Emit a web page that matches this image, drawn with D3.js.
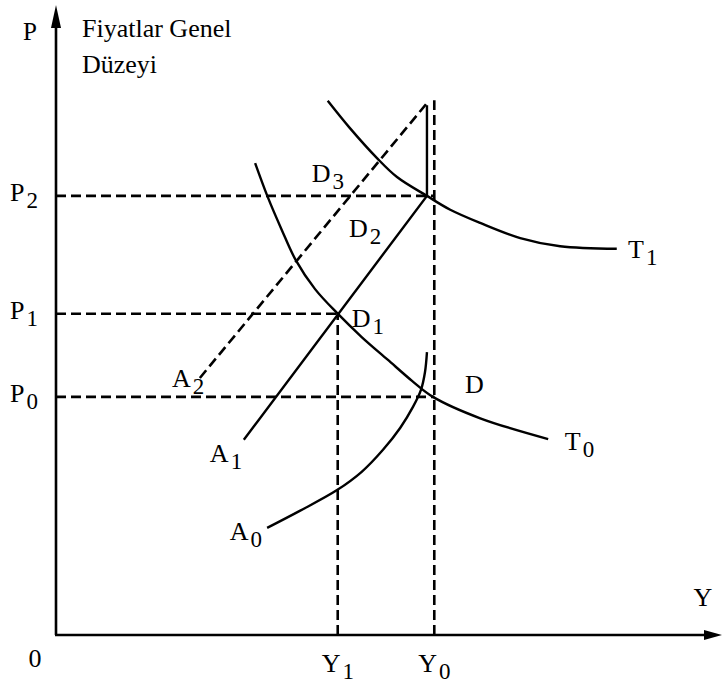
<!DOCTYPE html>
<html>
<head>
<meta charset="utf-8">
<script src="https://cdn.jsdelivr.net/npm/d3@7"></script>
<style>
  body { margin: 0; background: #fff; }
  svg { display: block; }
</style>
</head>
<body>
<div id="chart"></div>
<script>
// price levels (P axis) and output levels (Y axis), in chart units 0..100
const priceNames = ["P0", "P1", "P2"];
const priceValues = [37.8, 51.0, 69.7];
const outputNames = ["Y1", "Y0"];
const outputValues = [42.3, 56.8];

// curves
const t0Curve = [[29.9, 74.9], [31.8, 69.5], [33.9, 64.3], [36.0, 59.5], [38.9, 54.9], [42.3, 51.0],
    [45.9, 47.3], [49.8, 43.7], [53.5, 40.3], [56.6, 37.8], [63.7, 34.4], [73.9, 31.1]];
const t1Curve = [[40.8, 84.8], [44.1, 80.5], [48.2, 75.7], [51.2, 72.7], [55.7, 69.7], [59.2, 67.5],
    [63.7, 65.4], [69.7, 63.0], [75.7, 61.7], [84.2, 61.3]];
const a0Curve = [[31.7, 17.0], [36.6, 19.7], [42.2, 23.0], [45.9, 25.9], [49.1, 29.4], [51.7, 32.9],
    [53.6, 36.2], [54.8, 38.9], [55.4, 41.7], [55.7, 44.9]];
const a1Line = [[28.2, 31.0], [55.7, 69.7], [55.7, 84.1]];
const a2Line = [[21.6, 40.8], [55.6, 84.3]];

// dashed guides: [price, output end] and [output, price end]
const hGuides = [[69.7, 56.8], [51.0, 42.3], [37.8, 56.8]];
const vGuides = [[42.3, 51.0], [56.8, 84.9]];

// curve / point labels (letter, subscript, position in chart units)
const labelNames = ["T", "T", "A", "A", "A", "D", "D", "D", "D"];
const labelSubs = ["0", "1", "0", "1", "2", "", "1", "2", "3"];
const labelPos = [[76.4, 29.4], [85.9, 59.8], [26.1, 15.1], [23.1, 27.5], [17.4, 39.4],
    [61.4, 38.4], [44.4, 48.9], [44.0, 63.2], [38.4, 71.9]];

const width = 723, height = 683;
const FONT = "'Liberation Serif', 'DejaVu Serif', 'Times New Roman', serif";

const svg = d3.select("#chart").append("svg")
    .attr("width", width)
    .attr("height", height)
    .attr("font-family", FONT);

let x = d3.scaleLinear().domain([0, 100]).range([56, 722]);
let y = d3.scaleLinear().domain([0, 100]).range([635, 5]);

const line = d3.line().x(d => x(d[0])).y(d => y(d[1]));
const smooth = d3.line().x(d => x(d[0])).y(d => y(d[1])).curve(d3.curveCatmullRom.alpha(0.5));

// axes
svg.append("line")
    .attr("x1", x(0)).attr("y1", y(0))
    .attr("x2", x(0)).attr("y2", y(100) + 10)
    .attr("stroke", "#000").attr("stroke-width", 2.6);
svg.append("line")
    .attr("x1", x(0) - 1).attr("y1", y(0))
    .attr("x2", x(100) - 10).attr("y2", y(0))
    .attr("stroke", "#000").attr("stroke-width", 2.6);
// arrow heads
svg.append("path")
    .attr("d", `M${x(0)},${y(100)} L${x(0) - 5},${y(100) + 23} L${x(0) + 5},${y(100) + 23} Z`)
    .attr("fill", "#000");
svg.append("path")
    .attr("d", `M${x(100)},${y(0)} L${x(100) - 18},${y(0) - 5} L${x(100) - 18},${y(0) + 5} Z`)
    .attr("fill", "#000");

// dashed guides
const dash = "10,5";
svg.selectAll(".hguide").data(hGuides).enter()
    .append("line")
    .attr("class", "hguide")
    .attr("x1", x(0)).attr("y1", d => y(d[0]))
    .attr("x2", d => x(d[1])).attr("y2", d => y(d[0]))
    .attr("stroke", "#000").attr("stroke-width", 2.6)
    .attr("stroke-dasharray", dash);
svg.selectAll(".vguide").data(vGuides).enter()
    .append("line")
    .attr("class", "vguide")
    .attr("x1", d => x(d[0])).attr("y1", y(0))
    .attr("x2", d => x(d[0])).attr("y2", d => y(d[1]))
    .attr("stroke", "#000").attr("stroke-width", 2.6)
    .attr("stroke-dasharray", dash);

// curves
[t0Curve, t1Curve, a0Curve].forEach(c => {
    svg.append("path").attr("d", smooth(c))
        .attr("fill", "none").attr("stroke", "#000").attr("stroke-width", 2.4);
});
svg.append("path").attr("d", line(a1Line))
    .attr("fill", "none").attr("stroke", "#000").attr("stroke-width", 2.4);
svg.append("path").attr("d", line(a2Line))
    .attr("fill", "none").attr("stroke", "#000").attr("stroke-width", 2.6)
    .attr("stroke-dasharray", dash);

// helper: letter with subscript
function subLabel(sel, letter, sub) {
    sel.append("tspan").text(letter);
    if (sub) {
        sel.append("tspan").attr("dx", 2).attr("dy", 7)
            .attr("font-size", 23).text(sub);
    }
}

// P tick labels
priceNames.forEach((n, i) => {
    const t = svg.append("text")
        .attr("x", 10).attr("y", y(priceValues[i]) + 5)
        .attr("font-size", 26);
    subLabel(t, n[0], n[1]);
});
// Y tick labels
outputNames.forEach((n, i) => {
    const t = svg.append("text")
        .attr("x", x(outputValues[i]) - 16).attr("y", y(0) + 37)
        .attr("font-size", 26);
    subLabel(t, n[0], n[1]);
});

// curve labels
labelNames.forEach((n, i) => {
    const t = svg.append("text")
        .attr("x", x(labelPos[i][0])).attr("y", y(labelPos[i][1]))
        .attr("font-size", 26);
    subLabel(t, n, labelSubs[i]);
});

// axis titles
svg.append("text").attr("x", 30).attr("y", 40)
    .attr("text-anchor", "middle").attr("font-size", 25).text("P");
svg.append("text").attr("x", 82).attr("y", 37)
    .attr("font-size", 26).text("Fiyatlar Genel");
svg.append("text").attr("x", 82).attr("y", 73)
    .attr("font-size", 26).text("Düzeyi");
svg.append("text").attr("x", 703).attr("y", 606)
    .attr("text-anchor", "middle").attr("font-size", 26).text("Y");
svg.append("text").attr("x", 35).attr("y", 667)
    .attr("text-anchor", "middle").attr("font-size", 26).text("0");
</script>
</body>
</html>
